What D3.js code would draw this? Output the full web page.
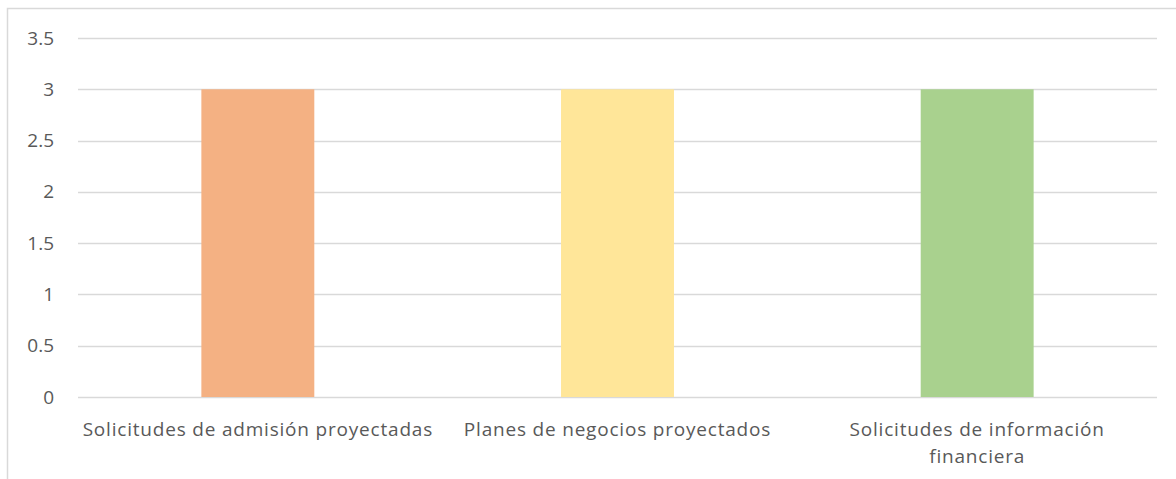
<!DOCTYPE html>
<html>
<head>
<meta charset="utf-8">
<script src="https://cdn.jsdelivr.net/npm/d3@7"></script>
<style>
  body { margin: 0; background: #fff; }
  text { font-family: "Open Sans", sans-serif; fill: #595959; }
</style>
</head>
<body>
<div id="chart"></div>
<script>
// chart data
const categories = [
  "Solicitudes de admisión proyectadas",
  "Planes de negocios proyectados",
  "Solicitudes de información financiera"
];
const values = [3, 3, 3];
const barColors = ["#F4B183", "#FFE699", "#A9D18E"];
const yTicks = [0, 0.5, 1, 1.5, 2, 2.5, 3, 3.5];

const W = 1176, H = 479;
const margin = { top: 38, right: 19, bottom: 82, left: 78 };
const wrapWidth = 352;

const svg = d3.select("#chart").append("svg")
  .attr("width", W)
  .attr("height", H);

// chart frame (only left and top edges are visible in the crop)
svg.append("rect")
  .attr("x", 7.5).attr("y", 8.5)
  .attr("width", W + 20).attr("height", H + 20)
  .attr("fill", "none")
  .attr("stroke", "#D9D9D9")
  .attr("stroke-width", 1.5);

const x = d3.scaleBand()
  .domain(categories)
  .range([margin.left, W - margin.right])
  .paddingInner(0.686)
  .paddingOuter(0.343);

const y = d3.scaleLinear()
  .domain([0, 3.5])
  .range([H - margin.bottom, margin.top]);

// gridlines
svg.append("g")
  .selectAll("line")
  .data(yTicks)
  .join("line")
  .attr("x1", margin.left)
  .attr("x2", W - margin.right)
  .attr("y1", d => Math.round(y(d)) + 0.5)
  .attr("y2", d => Math.round(y(d)) + 0.5)
  .attr("stroke", "#D9D9D9")
  .attr("stroke-width", 1.5);

// y axis labels
const yAxis = d3.axisLeft(y)
  .tickValues(yTicks)
  .tickFormat(d3.format("~g"))
  .tickSize(0)
  .tickPadding(0);
const ya = svg.append("g")
  .attr("transform", "translate(" + 54 + ",0)")
  .call(yAxis);
ya.select(".domain").remove();
ya.selectAll("text")
  .attr("font-size", 19)
  .attr("font-family", "Open Sans, sans-serif")
  .attr("fill", "#595959");

// bars
svg.append("g")
  .selectAll("rect")
  .data(values)
  .join("rect")
  .attr("x", (d, i) => x(categories[i]))
  .attr("width", x.bandwidth())
  .attr("y", d => y(d))
  .attr("height", d => y(0) - y(d))
  .attr("fill", (d, i) => barColors[i]);

// category labels, wrapped like the original
const labelG = svg.append("g");
categories.forEach(c => {
  const cx = x(c) + x.bandwidth() / 2;
  const t = labelG.append("text")
    .attr("text-anchor", "middle")
    .attr("font-size", 19)
    .attr("letter-spacing", 0.8)
    .attr("x", cx)
    .attr("y", H - margin.bottom + 39);
  const words = c.split(" ");
  let line = [];
  let tspan = t.append("tspan").attr("x", cx).attr("dy", 0);
  words.forEach(w => {
    line.push(w);
    tspan.text(line.join(" "));
    if (tspan.node().getBBox().width > wrapWidth && line.length > 1) {
      line.pop();
      tspan.text(line.join(" "));
      line = [w];
      tspan = t.append("tspan").attr("x", cx).attr("dy", 27).text(w);
    }
  });
});
</script>
</body>
</html>
